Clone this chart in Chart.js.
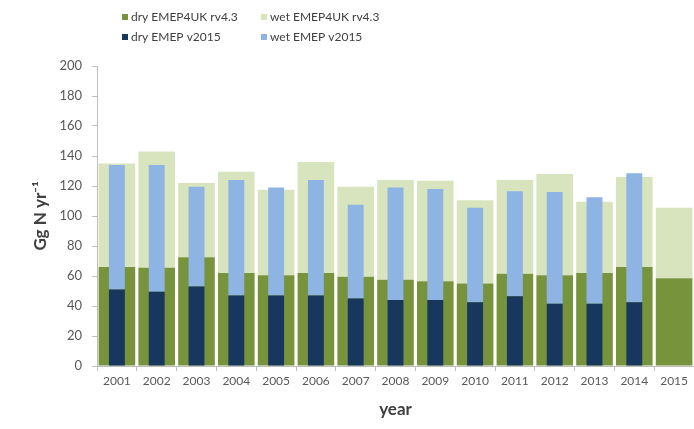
<!DOCTYPE html>
<html>
<head>
<meta charset="utf-8">
<script src="https://cdn.jsdelivr.net/npm/chart.js@4"></script>
<style>
  html, body { margin: 0; padding: 0; background: #fff; overflow: hidden; }
  #wrap { width: 694px; height: 429px; }
</style>
</head>
<body>
<div id="wrap"><canvas id="chart-deposition" width="694" height="429"></canvas></div>
<script>
    "use strict";

    // Annual N deposition, Gg N / yr
    const years = ["2001", "2002", "2003", "2004", "2005", "2006", "2007", "2008",
                   "2009", "2010", "2011", "2012", "2013", "2014", "2015"];
    const dryUK = [66, 65.5, 72.5, 62, 60.5, 62, 59.5, 57.5, 56.5, 55, 61.5, 60.5, 62, 66, 58.5];
    const wetUK = [69, 77.5, 49.5, 67.5, 57, 74, 60, 66.5, 67, 55.5, 62.5, 67.5, 47.5, 60, 47];
    const dryEMEP = [51, 49.5, 53, 47, 47, 47, 45, 44, 44, 42.5, 46.5, 41.5, 41.5, 42.5, null];
    const wetEMEP = [83, 84.5, 66.5, 77, 72, 77, 62.5, 75, 74, 63, 70, 74.5, 71, 86, null];
    const yTicks = [0, 20, 40, 60, 80, 100, 120, 140, 160, 180, 200];

    const axisGrey = "#bfbfbf";
    const textGrey = "#595959";
    const fontFamily = "Lato, 'Open Sans', sans-serif";

    // 2x2 legend above the plot
    const gridLegend = {
        id: "gridLegend",
        afterDraw(chart) {
            const ctx = chart.ctx;
            ctx.save();
            ctx.font = "12px " + fontFamily;
            ctx.textBaseline = "middle";
            chart.data.datasets.forEach((ds, i) => {
                const x = 122 + (i % 2) * 139;
                const y = 17 + Math.floor(i / 2) * 20;
                ctx.fillStyle = ds.backgroundColor;
                ctx.fillRect(x, y - 3, 6, 6);
                ctx.fillStyle = "#404040";
                ctx.fillText(ds.label, x + 9, y);
            });
            ctx.restore();
        }
    };

    // wide bars behind, narrow bars on top, both centred on the year
    const wide = { xAxisID: "x", stack: "uk", order: 2, grouped: false, barPercentage: 0.92, categoryPercentage: 1 };
    const narrow = { xAxisID: "x2", stack: "emep", order: 1, grouped: false, barPercentage: 0.4, categoryPercentage: 1 };

    new Chart(document.getElementById("chart-deposition").getContext("2d"), {
        type: "bar",
        data: {
            labels: years,
            datasets: [
                Object.assign({ label: "dry EMEP4UK rv4.3", data: dryUK, backgroundColor: "#77933c" }, wide),
                Object.assign({ label: "wet EMEP4UK rv4.3", data: wetUK, backgroundColor: "#d7e4bd" }, wide),
                Object.assign({ label: "dry EMEP v2015", data: dryEMEP, backgroundColor: "#17375e" }, narrow),
                Object.assign({ label: "wet EMEP v2015", data: wetEMEP, backgroundColor: "#8db4e2" }, narrow)
            ]
        },
        options: {
            responsive: false,
            animation: false,
            layout: { padding: { top: 66, left: 30, right: 0, bottom: 0 } },
            plugins: {
                legend: { display: false },
                tooltip: { enabled: false }
            },
            scales: {
                x: {
                    type: "category",
                    offset: true,
                    stacked: true,
                    grid: { offset: true, drawOnChartArea: false, tickLength: 5, color: axisGrey },
                    border: { color: axisGrey },
                    ticks: { color: textGrey, font: { family: fontFamily, size: 12 }, padding: 3, maxRotation: 0 },
                    title: {
                        display: true,
                        text: "year",
                        color: "#404040",
                        font: { family: fontFamily, size: 17, weight: "bold" },
                        padding: { top: 4, bottom: 9 }
                    },
                    afterFit: (scale) => { scale.height = 63; }
                },
                // second category axis for the narrow EMEP bars, shares the plot width
                x2: {
                    type: "category",
                    position: "bottom",
                    offset: true,
                    stacked: true,
                    grid: { display: false },
                    border: { display: false },
                    ticks: { display: false },
                    afterFit: (scale) => { scale.height = 0; }
                },
                y: {
                    stacked: true,
                    min: 0,
                    max: 200,
                    afterBuildTicks: (scale) => { scale.ticks = yTicks.map(v => ({ value: v })); },
                    grid: { drawOnChartArea: false, tickLength: 5, color: axisGrey },
                    border: { color: axisGrey },
                    ticks: { color: textGrey, font: { family: fontFamily, size: 13 }, padding: 10 },
                    title: {
                        display: true,
                        text: "Gg N yr\u207B\u00B9",
                        color: "#404040",
                        font: { family: fontFamily, size: 17, weight: "bold" },
                        padding: 0
                    },
                    afterFit: (scale) => { scale.width = 67; }
                }
            }
        },
        plugins: [gridLegend]
    });
</script>
</body>
</html>
